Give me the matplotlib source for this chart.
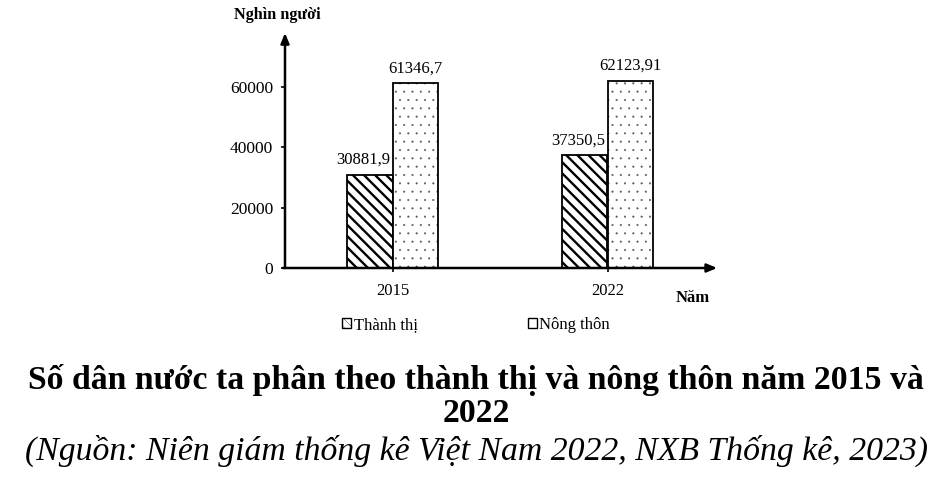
import matplotlib
matplotlib.use("Agg")
import matplotlib.pyplot as plt
import numpy as np
from matplotlib.patches import Patch

years = ["2015", "2022"]
thanh_thi = [30881.9, 37350.5]
nong_thon = [61346.7, 62123.91]
series_names = ["Thành thị", "Nông thôn"]
yticks = [0, 20000, 40000, 60000]

plt.rcParams["font.family"] = ["Liberation Serif", "DejaVu Serif"]

fig = plt.figure(figsize=(9.37, 4.83), dpi=100)
ax = fig.add_axes([285 / 937, 1 - 268 / 483, 430 / 937, 235 / 483])

x = np.arange(len(years))
w = 0.21

plt.rcParams["hatch.linewidth"] = 1.7
b1 = ax.bar(x - w / 2, thanh_thi, w, facecolor="white", edgecolor="black",
            linewidth=1.3, hatch="\\\\\\")
# dots drawn in grey, outline drawn in black on top
plt.rcParams["hatch.linewidth"] = 0.25
ax.bar(x + w / 2, nong_thon, w, facecolor="white", edgecolor="#555555",
       linewidth=0, hatch="..")
b2 = ax.bar(x + w / 2, nong_thon, w, fill=False, edgecolor="black", linewidth=1.3)

for bars, vals, dx in [(b1, thanh_thi, -5), (b2, nong_thon, 0)]:
    for r, v in zip(bars, vals):
        ax.annotate(str(v).replace(".", ","),
                    (r.get_x() + r.get_width() / 2, r.get_height()),
                    xytext=(dx, 5), textcoords="offset points",
                    ha="center", va="bottom", fontsize=12)

ax.set_xlim(-0.5, 1.5)
ax.set_ylim(0, 78000)
ax.set_yticks(yticks)
ax.set_yticklabels([str(t) for t in yticks])
ax.set_xticks(x)
ax.set_xticklabels(years)
ax.tick_params(axis="y", direction="out", length=3, width=1.2, pad=5.5, labelsize=12.5)
ax.tick_params(axis="x", direction="out", length=3, width=1.2, pad=8, labelsize=12)

for s in ["top", "right", "left", "bottom"]:
    ax.spines[s].set_visible(False)

ax.annotate("", xy=(1.005, 0), xytext=(-0.005, 0), xycoords="axes fraction",
            arrowprops=dict(arrowstyle="-|>,head_length=0.6,head_width=0.25",
                            color="black", lw=1.8, shrinkA=0, shrinkB=0))
ax.annotate("", xy=(0, 1.0), xytext=(0, 0), xycoords="axes fraction",
            arrowprops=dict(arrowstyle="-|>,head_length=0.6,head_width=0.25",
                            color="black", lw=1.8, shrinkA=0, shrinkB=0))

fig.text(234 / 937, 1 - 15 / 483, "Nghìn người", fontsize=11.7, fontweight="bold",
         ha="left", va="center")
fig.text(676 / 937, 1 - 298 / 483, "Năm", fontsize=12, fontweight="bold",
         ha="left", va="center")

handles = [Patch(facecolor="white", edgecolor="black", hatch="\\\\\\\\"),
           Patch(facecolor="white", edgecolor="black")]
fig.legend(handles, series_names, loc="center left",
           bbox_to_anchor=(342 / 937, 1 - 325 / 483), ncol=2, frameon=False,
           fontsize=12, handlelength=0.55, handleheight=0.55, handletextpad=0.15,
           columnspacing=6.6, borderpad=0, borderaxespad=0)

fig.text(476 / 937, 1 - 380 / 483, "Số dân nước ta phân theo thành thị và nông thôn năm 2015 và",
         fontsize=24.3, fontweight="bold", ha="center", va="center")
fig.text(476 / 937, 1 - 414 / 483, "2022", fontsize=24.3, fontweight="bold",
         ha="center", va="center")
fig.text(477 / 937, 1 - 451 / 483,
         "(Nguồn: Niên giám thống kê Việt Nam 2022, NXB Thống kê, 2023)",
         fontsize=24.3, fontstyle="italic", ha="center", va="center")

fig.savefig("out.png", dpi=100)
